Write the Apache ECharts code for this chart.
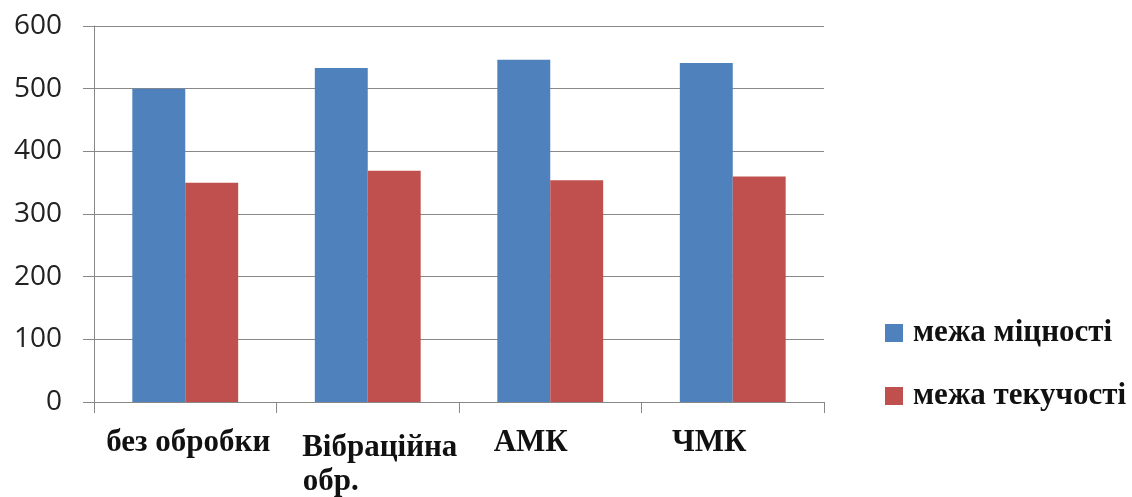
<!DOCTYPE html>
<html>
<head>
<meta charset="utf-8">
<script src="https://cdn.jsdelivr.net/npm/echarts@6/dist/echarts.min.js"></script>
<style>
  html, body { margin: 0; padding: 0; background: #fff; }
  #chart { width: 1132px; height: 497px; }
</style>
</head>
<body>
<div id="chart"></div>
<script>
// Categories (treatment methods)
const categories = ['без обробки', 'Вібраційна обр.', 'АМК', 'ЧМК'];
// Series names
const seriesNames = ['межа міцності', 'межа текучості'];
// Values, MPa
const strengthLimit = [500, 533, 546, 541];
const yieldLimit = [350, 369, 354, 360];
// Value axis ticks
const yTicks = [0, 100, 200, 300, 400, 500, 600];

const blue = '#4F81BD';
const red = '#C0504D';
const gridGray = '#888888';
const serif = '"Liberation Serif", "Times New Roman", serif';

// Rich-text layout per category label (line breaks and horizontal nudges)
const labelFormat = {
  'без обробки': '{s6|}{t|без обробки}',
  'Вібраційна обр.': '{s24|}{v1|Вібраційна}\n{v2|обр.}{s74|}',
  'АМК': '{t|АМК}{s39|}',
  'ЧМК': '{t|ЧМК}{s47|}'
};

const labelText = {
  fontFamily: serif,
  fontWeight: 'bold',
  fontSize: 31,
  color: '#111'
};

const chart = echarts.init(document.getElementById('chart'), null, { renderer: 'canvas' });

chart.setOption({
  backgroundColor: '#ffffff',
  animation: false,
  grid: { left: 94, right: 308, top: 26, bottom: 94, containLabel: false },
  legend: {
    orient: 'vertical',
    left: 880,
    top: 310,
    itemWidth: 18,
    itemHeight: 18,
    itemGap: 27,
    icon: 'rect',
    data: seriesNames,
    textStyle: {
      fontFamily: serif,
      fontWeight: 'bold',
      fontSize: 31,
      lineHeight: 36,
      color: '#111',
      padding: [0, 0, 0, 5]
    }
  },
  xAxis: {
    type: 'category',
    data: categories,
    axisLine: { lineStyle: { color: gridGray, width: 1 } },
    axisTick: { show: true, length: 11, lineStyle: { color: gridGray } },
    axisLabel: {
      margin: 22,
      interval: 0,
      formatter: v => labelFormat[v] || v,
      rich: {
        t: Object.assign({ lineHeight: 37 }, labelText),
        v1: Object.assign({ lineHeight: 47 }, labelText),
        v2: Object.assign({ lineHeight: 21 }, labelText),
        s6: { width: 6 },
        s24: { width: 24 },
        s39: { width: 39 },
        s47: { width: 47 },
        s74: { width: 74 }
      }
    }
  },
  yAxis: {
    type: 'value',
    min: yTicks[0],
    max: yTicks[yTicks.length - 1],
    interval: 100,
    axisLine: { show: true, lineStyle: { color: gridGray, width: 1 } },
    axisTick: { show: true, length: 11, lineStyle: { color: gridGray } },
    splitLine: { show: true, lineStyle: { color: gridGray, width: 1 } },
    axisLabel: {
      margin: 32,
      fontFamily: '"Open Sans", sans-serif',
      fontSize: 28,
      color: '#222'
    }
  },
  series: [
    {
      name: seriesNames[0],
      type: 'bar',
      data: strengthLimit,
      itemStyle: { color: blue },
      barGap: '0%',
      barCategoryGap: '42%'
    },
    {
      name: seriesNames[1],
      type: 'bar',
      data: yieldLimit,
      itemStyle: { color: red },
      barGap: '0%',
      barCategoryGap: '42%'
    }
  ]
});
</script>
</body>
</html>
